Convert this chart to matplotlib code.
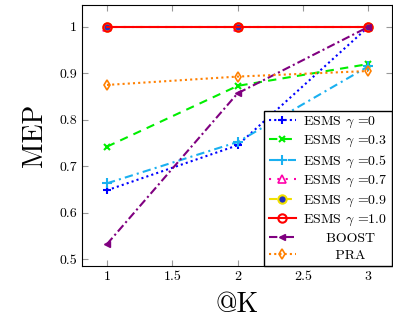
import matplotlib.pyplot as plt
import numpy as np

plt.rcParams['font.family'] = 'cmr10'
plt.rcParams['mathtext.fontset'] = 'cm'
plt.rcParams['axes.formatter.use_mathtext'] = True

k = [1, 2, 3]
esms_0 = [0.648, 0.745, 1.0]
esms_03 = [0.742, 0.873, 0.920]
esms_05 = [0.663, 0.752, 0.915]
esms_07 = [1.0, 1.0, 1.0]
esms_09 = [1.0, 1.0, 1.0]
esms_10 = [1.0, 1.0, 1.0]
boost = [0.532, 0.857, 1.0]
pra = [0.875, 0.893, 0.905]

fig = plt.figure(figsize=(3.93, 3.2), dpi=100)
ax = fig.add_axes([0.209, 0.169, 0.788, 0.815])

lw = 1.5
ax.plot(k, esms_0, color='blue', ls=(0, (1, 1.5)), marker='+', ms=6, mew=1.5, lw=lw, label=r'ESMS $\gamma$ =0')
ax.plot(k, esms_03, color='#00ee00', ls=(0, (4, 3)), marker='x', ms=5, mew=1.5, lw=lw, label=r'ESMS $\gamma$ =0.3')
ax.plot(k, esms_05, color='#1ab0f0', ls=(0, (4, 2, 1, 2)), marker='+', ms=7, mew=1.5, lw=lw, label=r'ESMS $\gamma$ =0.5')
ax.plot(k, esms_07, color='#ff00aa', ls=(0, (1, 3)), marker='^', ms=6, mfc='none', mew=1.2, lw=lw, label=r'ESMS $\gamma$ =0.7')
ax.plot(k, esms_09, color='#f0e000', ls=(0, (4, 3)), marker='o', ms=6, mfc='#2030c0', mec='#f0e000', mew=1.5, lw=lw, label=r'ESMS $\gamma$ =0.9')
ax.plot(k, esms_10, '-', color='red', marker='o', ms=6, mfc='none', mew=1.5, lw=lw, label=r'ESMS $\gamma$ =1.0')
ax.plot(k, boost, color='purple', ls=(0, (4, 1.5, 1, 1.5)), marker='<', ms=5, lw=lw, label='     BOOST')
ax.plot(k, pra, color='#ff8000', ls=(0, (1, 1.5)), marker='d', ms=5, mfc='none', mew=1.2, lw=lw, label='       PRA')

ax.set_xlim(0.81, 3.18)
ax.set_ylim(0.485, 1.047)
ax.set_xticks([1, 1.5, 2, 2.5, 3])
ax.set_xticklabels(['1', '1.5', '2', '2.5', '3'])
ax.set_yticks([0.5, 0.6, 0.7, 0.8, 0.9, 1.0])
ax.set_yticklabels(['0.5', '0.6', '0.7', '0.8', '0.9', '1'])
ax.tick_params(direction='in', top=True, right=True, labelsize=10, color='#999999', length=4)
ax.grid(False)

ax.set_xlabel('@K', fontsize=20, labelpad=6)
ax.set_ylabel('MEP', fontsize=20, labelpad=8)

leg = ax.legend(loc='lower right', fontsize=10, fancybox=False, edgecolor='black',
                framealpha=1, borderaxespad=0, handlelength=2.0, handletextpad=0.5,
                labelspacing=0.3, borderpad=0.3)
leg.get_frame().set_linewidth(1.0)

fig.savefig('out.png', dpi=100)
